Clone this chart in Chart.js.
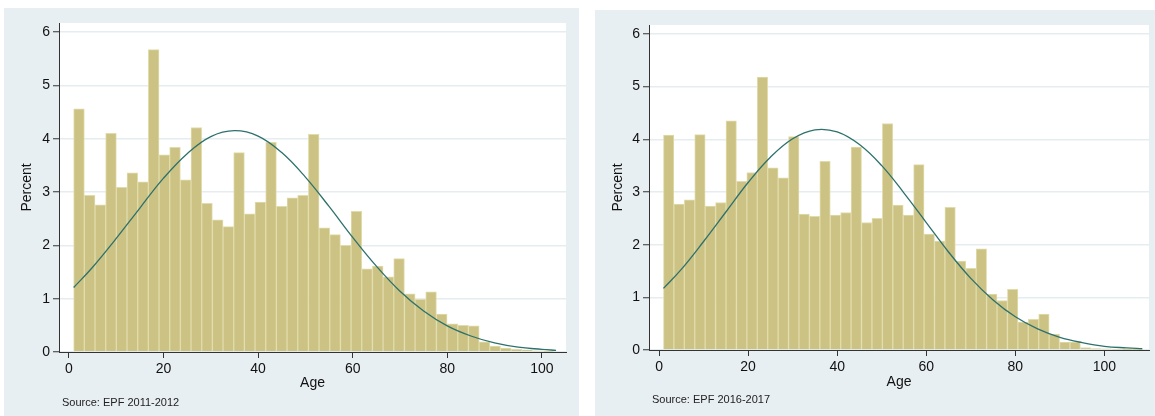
<!DOCTYPE html>
<html>
<head>
<meta charset="utf-8">
<script src="https://cdn.jsdelivr.net/npm/chart.js@4"></script>
<style>
  body { margin: 0; background: #fff; width: 1155px; height: 416px; position: relative; overflow: hidden; font-family: "Liberation Sans", Arial, sans-serif; }
  .panel { position: absolute; background: #e8eff2; }
  .panel canvas { position: absolute; left: 0; top: 0; }
  .source { position: absolute; font-size: 11px; line-height: 13px; color: #222; white-space: nowrap; }
</style>
</head>
<body>
<div class="panel" style="left:4px;top:8px;width:575px;height:408px;">
  <canvas id="c2011" width="575" height="408"></canvas>
  <div class="source" style="left:58px;top:388px;">Source: EPF 2011-2012</div>
</div>
<div class="panel" style="left:595px;top:10px;width:560px;height:406px;">
  <canvas id="c2016" width="560" height="406"></canvas>
  <div class="source" style="left:57px;top:383px;">Source: EPF 2016-2017</div>
</div>
<script>
// percent of people per age bin
const pct2011 = [4.56, 2.94, 2.76, 4.10, 3.09, 3.36, 3.19, 5.67, 3.70, 3.84,
  3.23, 4.21, 2.79, 2.48, 2.35, 3.74, 2.59, 2.81, 3.93, 2.73,
  2.89, 2.94, 4.08, 2.33, 2.20, 2.00, 2.64, 1.56, 1.61, 1.41,
  1.75, 1.09, 0.99, 1.13, 0.71, 0.53, 0.50, 0.49, 0.19, 0.11,
  0.075, 0.05, 0.04, 0.02, 0.01];
const pct2016 = [4.08, 2.77, 2.85, 4.09, 2.73, 2.80, 4.35, 3.20, 3.37, 5.18,
  3.46, 3.27, 4.05, 2.58, 2.54, 3.58, 2.56, 2.61, 3.85, 2.42,
  2.50, 4.30, 2.75, 2.56, 3.52, 2.20, 2.07, 2.71, 1.69, 1.55,
  1.92, 1.06, 0.94, 1.15, 0.53, 0.58, 0.68, 0.30, 0.15, 0.15,
  0.044, 0.025, 0.02, 0.013, 0.006, 0.004];
const binStart2011 = 1, binWidth2011 = 2.256;
const binStart2016 = 1, binWidth2016 = 2.34;

// normal density overlay, read at a few ages
const curveAge2011 = [1, 5, 10, 15, 20, 25, 30, 35, 40, 45, 50, 55, 60, 65, 70, 75, 80, 85, 90, 95, 100, 103];
const curvePct2011 = [1.21, 1.59, 2.13, 2.70, 3.26, 3.72, 4.04, 4.15, 4.05, 3.74, 3.28, 2.73, 2.15, 1.61, 1.14, 0.77, 0.49, 0.30, 0.17, 0.09, 0.05, 0.03];
const curveAge2016 = [1, 5, 10, 15, 20, 25, 30, 35, 40, 45, 50, 55, 60, 65, 70, 75, 80, 85, 90, 95, 100, 105, 108.5];
const curvePct2016 = [1.17, 1.53, 2.06, 2.62, 3.18, 3.66, 4.01, 4.18, 4.14, 3.90, 3.50, 2.98, 2.42, 1.86, 1.36, 0.95, 0.63, 0.40, 0.24, 0.14, 0.07, 0.04, 0.025];

const FONT = "'Liberation Sans', Arial, sans-serif";
const INK = "#111";
const AXIS = "#333";

const whitePlot = {
  id: "whitePlot",
  beforeDraw(chart) {
    const { ctx, chartArea: a } = chart;
    ctx.save();
    ctx.fillStyle = "#fff";
    ctx.fillRect(a.left, a.top, a.right - a.left, a.bottom - a.top);
    ctx.restore();
  },
};

function histogram(id, o) {
  const bars = o.pct.map((v, i) => ({ x: o.start + (i + 0.5) * o.width, y: v }));
  const curve = o.curveAge.map((a, i) => ({ x: a, y: o.curvePct[i] }));
  return new Chart(document.getElementById(id), {
    type: "bar",
    data: {
      datasets: [
        { type: "line", data: curve, borderColor: "#2d716d", borderWidth: 1.3, pointRadius: 0, tension: 0.4, order: 0 },
        { data: bars, backgroundColor: "#cbc283", borderColor: "#e1dcab", borderWidth: 1, barPercentage: 1, categoryPercentage: 1, order: 1 },
      ],
    },
    options: {
      responsive: false,
      animation: false,
      layout: { padding: { left: 0, top: 15, right: o.padRight, bottom: 0 } },
      plugins: { legend: { display: false }, tooltip: { enabled: false } },
      scales: {
        x: {
          type: "linear", min: o.xMin, max: o.xMax, offset: false,
          afterFit: (s) => { s.height = o.xAxisH; },
          ticks: { stepSize: 20, includeBounds: false, padding: 3, maxRotation: 0, color: INK, font: { size: 14, family: FONT } },
          grid: { offset: false, drawOnChartArea: false, tickLength: 6, tickColor: AXIS, tickWidth: 1 },
          border: { color: AXIS, width: 1 },
          title: { display: true, text: "Age", color: INK, font: { size: 14, family: FONT }, padding: { top: 0, bottom: o.agePad } },
        },
        y: {
          min: 0, max: 6.17,
          afterFit: (s) => { s.width = o.yAxisW; },
          ticks: { stepSize: 1, includeBounds: false, padding: 3, color: INK, font: { size: 14, family: FONT } },
          grid: { color: "#e5edf0", lineWidth: 1.5, tickLength: 6, tickColor: AXIS, tickWidth: 1 },
          border: { color: AXIS, width: 1 },
          title: { display: true, text: "Percent", color: INK, font: { size: 14, family: FONT }, padding: { top: 15, bottom: 0 } },
        },
      },
    },
    plugins: [whitePlot],
  });
}

histogram("c2011", {
  pct: pct2011, start: binStart2011, width: binWidth2011,
  curveAge: curveAge2011, curvePct: curvePct2011,
  xMin: -2.1, xMax: 105.1, padRight: 13, xAxisH: 64, yAxisW: 55, agePad: 24,
});
histogram("c2016", {
  pct: pct2016, start: binStart2016, width: binWidth2016,
  curveAge: curveAge2016, curvePct: curvePct2016,
  xMin: -2.25, xMax: 110.0, padRight: 6, xAxisH: 66, yAxisW: 54, agePad: 25,
});
</script>
</body>
</html>
